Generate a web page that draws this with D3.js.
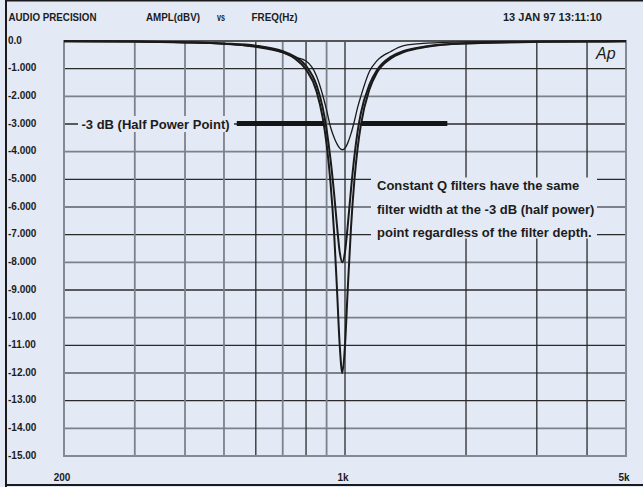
<!DOCTYPE html>
<html>
<head>
<meta charset="utf-8">
<script src="https://cdn.jsdelivr.net/npm/d3@7"></script>
<style>
  html, body { margin: 0; padding: 0; background: #e3eaf5; }
  svg { display: block; }
  text { font-family: "Liberation Sans", Arial, Helvetica, sans-serif; fill: #1c1c1c; }
</style>
</head>
<body>
<svg id="chart" width="643" height="487"></svg>
<script>
// Measurement frequencies (Hz) shared by the three sweeps
const freqs = [200, 300, 400, 500, 600, 700, 750, 800, 850, 880, 900, 920, 940, 955, 970,
               985, 1000, 1015, 1035, 1055, 1075, 1095, 1150, 1200, 1300, 1400, 1600, 2000,
               3000, 4000, 5000];

// Notch responses (dBV) for the three filter depths
const notch4 = [-0.01, -0.02, -0.05, -0.10, -0.22, -0.42, -0.58, -0.72, -1.27, -1.95, -2.50,
                -3.10, -3.50, -3.72, -3.87, -3.93, -3.87, -3.70, -3.35, -2.90, -2.40, -2.00,
                -1.10, -0.72, -0.38, -0.17, -0.08, -0.03, -0.01, -0.01, 0.00];
const notch8 = [-0.01, -0.02, -0.05, -0.09, -0.17, -0.37, -0.56, -0.90, -1.60, -2.40, -3.20,
                -4.25, -5.55, -6.66, -7.62, -8.00, -7.62, -6.73, -5.36, -4.18, -3.27, -2.61,
                -1.58, -1.06, -0.57, -0.36, -0.19, -0.08, -0.03, -0.02, -0.01];
const notch12 = [-0.01, -0.02, -0.05, -0.10, -0.19, -0.41, -0.63, -1.03, -1.83, -2.77, -3.73,
                 -5.10, -7.00, -8.95, -10.98, -12.00, -11.00, -9.08, -6.74, -5.05, -3.87, -3.04,
                 -1.75, -1.15, -0.63, -0.40, -0.21, -0.09, -0.03, -0.02, -0.01];

// Axis ticks
const yTicks = [0, -1, -2, -3, -4, -5, -6, -7, -8, -9, -10, -11, -12, -13, -14, -15];
const yTickLabels = ["0.0", "-1.000", "-2.000", "-3.000", "-4.000", "-5.000", "-6.000", "-7.000",
                     "-8.000", "-9.000", "-10.00", "-11.00", "-12.00", "-13.00", "-14.00", "-15.00"];
const xGrid = [300, 400, 500, 600, 700, 800, 900, 1000, 2000, 3000, 4000];
const xGridLight = [300, 400, 500, 700, 900];
const xTicks = [200, 1000, 5000];
const xTickLabels = ["200", "1k", "5k"];

// Header and annotations
const headerItems = [
  { text: "AUDIO PRECISION", x: 8.5, len: 88 },
  { text: "AMPL(dBV)", x: 146, len: 54 },
  { text: "vs", x: 217, len: 8 },
  { text: "FREQ(Hz)", x: 251.5, len: 46 },
  { text: "13 JAN 97  13:11:10", x: 503, len: 99 }
];
const halfPowerLabel = "-3 dB (Half Power Point)";
const halfPowerLevel = -3;
const halfPowerBars = [[538, 889], [1099, 1797]];
const noteLines = ["Constant Q filters have the same",
                   "filter width at the -3 dB (half power)",
                   "point regardless of the filter depth."];

const svg = d3.select("#chart");
const W = 643, H = 487;
const plot = { left: 64, right: 626, top: 41, bottom: 456 };

const x = d3.scaleLog().domain([200, 5000]).range([plot.left, plot.right]);
const y = d3.scaleLinear().domain([0, -15]).range([plot.top, plot.bottom]);

// Page background and outer border
svg.append("rect").attr("width", W).attr("height", H).attr("fill", "#e3eaf5");
svg.append("rect").attr("x", 5).attr("y", 0).attr("width", 2).attr("height", H).attr("fill", "#1a1a1a");
svg.append("rect").attr("x", 5).attr("y", 0).attr("width", W - 5).attr("height", 1.5).attr("fill", "#1a1a1a");
svg.append("rect").attr("x", 5).attr("y", 484).attr("width", W - 5).attr("height", 2).attr("fill", "#1a1a1a");

// Header
svg.append("g").selectAll("text").data(headerItems).join("text")
  .attr("x", d => d.x).attr("y", 21)
  .attr("font-size", 10).attr("font-weight", "bold")
  .attr("textLength", d => d.len).attr("lengthAdjust", "spacingAndGlyphs")
  .text(d => d.text);

// Grid
const grid = svg.append("g");
grid.selectAll("line.h").data(yTicks.slice(1, -1)).join("line")
  .attr("x1", plot.left).attr("x2", plot.right)
  .attr("y1", d => y(d)).attr("y2", d => y(d))
  .attr("stroke", d => (d % 2 === 0 ? "#7d8189" : "#2a2a2a"))
  .attr("stroke-width", d => (d % 2 === 0 ? 1.8 : 1.3));
grid.selectAll("line.v").data(xGrid).join("line")
  .attr("y1", plot.top).attr("y2", plot.bottom)
  .attr("x1", d => x(d)).attr("x2", d => x(d))
  .attr("stroke", d => (xGridLight.includes(d) ? "#7d8189" : "#2a2a2a"))
  .attr("stroke-width", d => (xGridLight.includes(d) ? 1.8 : 1.3));

// Plot frame
svg.append("rect")
  .attr("x", plot.left).attr("y", plot.top)
  .attr("width", plot.right - plot.left).attr("height", plot.bottom - plot.top)
  .attr("fill", "none").attr("stroke", "#858992").attr("stroke-width", 2);
svg.append("line")
  .attr("x1", plot.left).attr("x2", plot.right).attr("y1", plot.top).attr("y2", plot.top)
  .attr("stroke", "#555", "stroke-width").attr("stroke-width", 2);

// Y tick labels
svg.append("g").selectAll("text").data(yTicks).join("text")
  .attr("x", 8).attr("y", d => y(d) + 2.5)
  .attr("font-size", 10).attr("font-weight", "bold")
  .text((d, i) => yTickLabels[i]);

// X tick labels
svg.append("g").selectAll("text").data(xTicks).join("text")
  .attr("x", d => x(d) - 2).attr("y", 481)
  .attr("text-anchor", "middle")
  .attr("font-size", 10).attr("font-weight", "bold")
  .text((d, i) => xTickLabels[i]);

// Response curves
const line = d3.line()
  .x(d => x(d[0])).y(d => y(d[1]))
  .curve(d3.curveMonotoneX);
const series = [
  { values: notch12, width: 2.0 },
  { values: notch8, width: 2.0 },
  { values: notch4, width: 1.3 }
];
svg.append("g").selectAll("path").data(series).join("path")
  .attr("d", s => line(freqs.map((f, i) => [f, s.values[i]])))
  .attr("fill", "none").attr("stroke", "#1a1a1a")
  .attr("stroke-width", s => s.width)
  .attr("stroke-linejoin", "round");

// -3 dB annotation
const hpY = y(halfPowerLevel);
svg.append("rect").attr("x", 78).attr("y", hpY - 8).attr("width", 156).attr("height", 16)
  .attr("fill", "#e3eaf5");
svg.append("text")
  .attr("x", 81.5).attr("y", hpY + 4.5)
  .attr("font-size", 13).attr("font-weight", "bold")
  .text(halfPowerLabel);
svg.append("g").selectAll("line").data(halfPowerBars).join("line")
  .attr("x1", d => x(d[0])).attr("x2", d => x(d[1]))
  .attr("y1", hpY - 0.5).attr("y2", hpY - 0.5)
  .attr("stroke", "#151515").attr("stroke-width", 5);

// Constant-Q note
svg.append("rect").attr("x", 371).attr("y", 177.5).attr("width", 226).attr("height", 61)
  .attr("fill", "#e3eaf5");
svg.append("g").selectAll("text").data(noteLines).join("text")
  .attr("x", 377).attr("y", (d, i) => 190 + i * 23.5)
  .attr("font-size", 13).attr("font-weight", "bold")
  .text(d => d);

// Ap mark
svg.append("text")
  .attr("x", 596).attr("y", 58.5)
  .attr("font-size", 16).attr("font-style", "italic")
  .attr("fill", "#333")
  .text("Ap");
</script>
</body>
</html>
